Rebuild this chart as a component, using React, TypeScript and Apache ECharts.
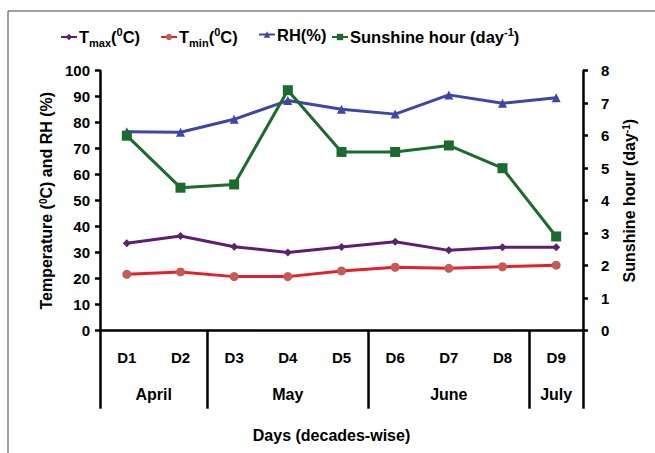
import React, { useEffect, useRef } from "react";
import * as echarts from "echarts";

const categories = ["D1", "D2", "D3", "D4", "D5", "D6", "D7", "D8", "D9"];
const months = ["April", "May", "June", "July"];
const monthSpans = [2, 3, 3, 1];
const tmax = [33.6, 36.4, 32.3, 30.1, 32.2, 34.2, 30.9, 32.1, 32.1];
const tmin = [21.7, 22.6, 20.8, 20.8, 23.0, 24.4, 24.0, 24.6, 25.2];
const rh = [76.5, 76.3, 81.3, 88.5, 85.2, 83.3, 90.7, 87.5, 89.6];
const sunshine = [6.0, 4.4, 4.5, 7.4, 5.5, 5.5, 5.7, 5.0, 2.9];
const seriesNames = ["Tmax", "Tmin", "RH", "Sunshine"];

const FONT = "Liberation Sans";

export default function App() {
  const ref = useRef<HTMLDivElement>(null);
  useEffect(() => {
    if (!ref.current) return;
    const chart = echarts.init(ref.current, null, { renderer: "svg" });
    const bounds: number[] = [0];
    monthSpans.forEach((s) => bounds.push(bounds[bounds.length - 1] + s));
    const mids = months.map((_, i) => (bounds[i] + bounds[i + 1]) / 2);
    const base = { fontFamily: FONT, fontWeight: "bold", color: "#000" } as any;
    const legendRich = {
      b: { ...base, fontSize: 16.5, lineHeight: 22, verticalAlign: "middle" },
      sub: { ...base, fontSize: 11, lineHeight: 22, verticalAlign: "bottom", padding: [9, 0, 0, 0] },
      sup: { ...base, fontSize: 11, lineHeight: 22, verticalAlign: "top", padding: [0, 0, 7, 0] },
    };
    const legendText: Record<string, string> = {
      Tmax: "{b|T}{sub|max}{b|(}{sup|0}{b|C)}",
      Tmin: "{b|T}{sub|min}{b|(}{sup|0}{b|C)}",
      RH: "{b|RH(%)}",
      Sunshine: "{b|Sunshine hour (day}{sup|-1}{b|)}",
    };
    const legendLefts = [55, 155, 253, 326];
    const axisLineStyle = { color: "#000", width: 2.5 };
    const supRich = { sup: { ...base, fontSize: 10, verticalAlign: "top", padding: [0, 0, 6, 0] } };
    chart.setOption({
      animation: false,
      backgroundColor: "#fff",
      graphic: [
        { type: "line", shape: { x1: 8, y1: 11, x2: 655, y2: 11 }, style: { stroke: "#444", lineWidth: 1 } },
        { type: "line", shape: { x1: 8, y1: 11, x2: 8, y2: 453 }, style: { stroke: "#444", lineWidth: 1 } },
      ],
      legend: seriesNames.map((n, i) => ({
        top: 21,
        left: legendLefts[i],
        itemWidth: 16,
        itemHeight: 8,
        data: [n],
        formatter: (name: string) => legendText[name],
        textStyle: { rich: legendRich, padding: [0, 0, 0, -3] },
      })),
      grid: { left: 100, right: 72, top: 70.7, bottom: 122.3, containLabel: false },
      xAxis: [
        {
          type: "category",
          data: categories,
          boundaryGap: true,
          axisLine: { lineStyle: axisLineStyle },
          axisTick: { show: false },
          axisLabel: { ...base, fontSize: 15, margin: 19 },
          name: "Days (decades-wise)",
          nameLocation: "middle",
          nameGap: 97,
          nameTextStyle: { ...base, fontSize: 16, padding: [0, 20, 0, 0] },
        },
        {
          type: "value",
          min: 0,
          max: categories.length,
          position: "bottom",
          offset: 0,
          axisLine: { show: false },
          splitLine: { show: false },
          axisTick: { show: true, customValues: bounds, length: 78, lineStyle: axisLineStyle },
          axisLabel: {
            ...base,
            fontSize: 16,
            margin: 56,
            customValues: mids,
            formatter: (v: number) => {
              const i = mids.findIndex((m) => Math.abs(m - v) < 1e-6);
              return i >= 0 ? months[i] : "";
            },
          },
        },
      ],
      yAxis: [
        {
          type: "value",
          min: 0,
          max: 100,
          interval: 10,
          axisLine: { show: true, lineStyle: axisLineStyle },
          axisTick: { show: true, length: 5, lineStyle: axisLineStyle },
          splitLine: { show: false },
          axisLabel: { ...base, fontSize: 15, margin: 10 },
          name: "Temperature ({sup|0}C) and RH (%)",
          nameLocation: "middle",
          nameGap: 46,
          nameTextStyle: { ...base, fontSize: 16, rich: supRich },
        },
        {
          type: "value",
          min: 0,
          max: 8,
          interval: 1,
          position: "right",
          axisLine: { show: true, lineStyle: axisLineStyle },
          axisTick: { show: true, length: 5, lineStyle: axisLineStyle },
          splitLine: { show: false },
          axisLabel: { ...base, fontSize: 15, margin: 18 },
          name: "Sunshine hour (day{sup|-1})",
          nameLocation: "middle",
          nameGap: 38,
          nameRotate: 90,
          nameTextStyle: { ...base, fontSize: 16, rich: supRich },
        },
      ],
      series: [
        {
          name: "Tmax",
          type: "line",
          data: tmax,
          yAxisIndex: 0,
          symbol: "diamond",
          symbolSize: 8,
          lineStyle: { color: "#5E1F6E", width: 3 },
          itemStyle: { color: "#5E1F6E" },
        },
        {
          name: "Tmin",
          type: "line",
          data: tmin,
          yAxisIndex: 0,
          symbol: "circle",
          symbolSize: 9,
          lineStyle: { color: "#E3202B", width: 3 },
          itemStyle: { color: "#C65A55" },
        },
        {
          name: "RH",
          type: "line",
          data: rh,
          yAxisIndex: 0,
          symbol: "triangle",
          symbolSize: 9,
          lineStyle: { color: "#3D46A8", width: 3 },
          itemStyle: { color: "#3D46A8" },
        },
        {
          name: "Sunshine",
          type: "line",
          data: sunshine,
          yAxisIndex: 1,
          symbol: "rect",
          symbolSize: 10,
          lineStyle: { color: "#1D6A2E", width: 3 },
          itemStyle: { color: "#1D6A2E" },
        },
      ],
    });
    return () => chart.dispose();
  }, []);
  return (
    <div
      ref={ref}
      style={{ position: "fixed", left: 0, top: 0, width: 655, height: 453 }}
    />
  );
}
